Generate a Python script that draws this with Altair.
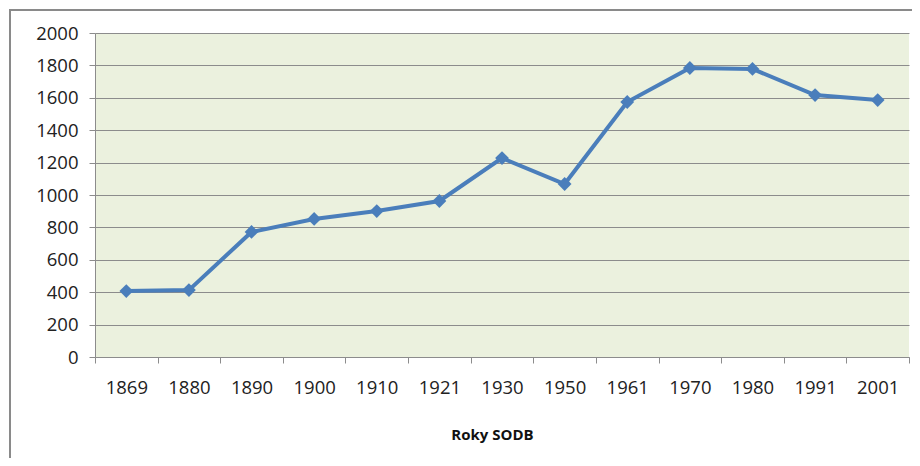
import altair as alt
import pandas as pd

years = ["1869", "1880", "1890", "1900", "1910", "1921", "1930", "1950", "1961", "1970", "1980", "1991", "2001"]
values = [407, 413, 772, 852, 901, 963, 1228, 1068, 1574, 1784, 1778, 1617, 1586]

df = pd.DataFrame({"rok": years, "pocet": values})

FONT = "Open Sans"
GRID = "#8c8c8c"

x = alt.X("rok:N", sort=years, title="Roky SODB",
          scale=alt.Scale(paddingInner=0, paddingOuter=0),
          axis=alt.Axis(labelAngle=0, tickBand="extent", tickSize=6, tickColor=GRID,
                        domainColor=GRID, labelFont=FONT, labelFontSize=18.5, labelColor="#222",
                        labelPadding=15, titleFont=FONT, titleFontSize=15, titleFontWeight="bold",
                        titleColor="#111", titlePadding=31, titleX=397, titleAlign="center",
                        grid=False))
y = alt.Y("pocet:Q", title=None,
          scale=alt.Scale(domain=[0, 2000]),
          axis=alt.Axis(values=list(range(0, 2001, 200)), format="d", tickSize=6, tickColor=GRID,
                        domainColor=GRID, gridColor=GRID, gridWidth=1, labelFont=FONT,
                        labelFontSize=18.5, labelColor="#222", labelPadding=11))

border = alt.Chart(df).mark_rect(fill=None, stroke="#8a8a8a", strokeWidth=1.5).encode(
    x=alt.value(-85), x2=alt.value(840), y=alt.value(-23), y2=alt.value(480))

line = alt.Chart(df).mark_line(color="#4A7EBB", strokeWidth=4).encode(x=x, y=y)
pts = alt.Chart(df).mark_point(shape="diamond", filled=True, color="#4A7EBB", size=190, opacity=1).encode(x=x, y=y)

chart = alt.layer(line, pts, border).properties(
    width=814, height=324,
    autosize=alt.AutoSizeParams(type="none"),
    padding={"left": 87, "top": 25, "right": 3, "bottom": 101},
    background="white",
).configure_view(fill="#EBF1DE", stroke=None)

chart.save("out.html", embed_options={"renderer": "svg", "actions": False})
